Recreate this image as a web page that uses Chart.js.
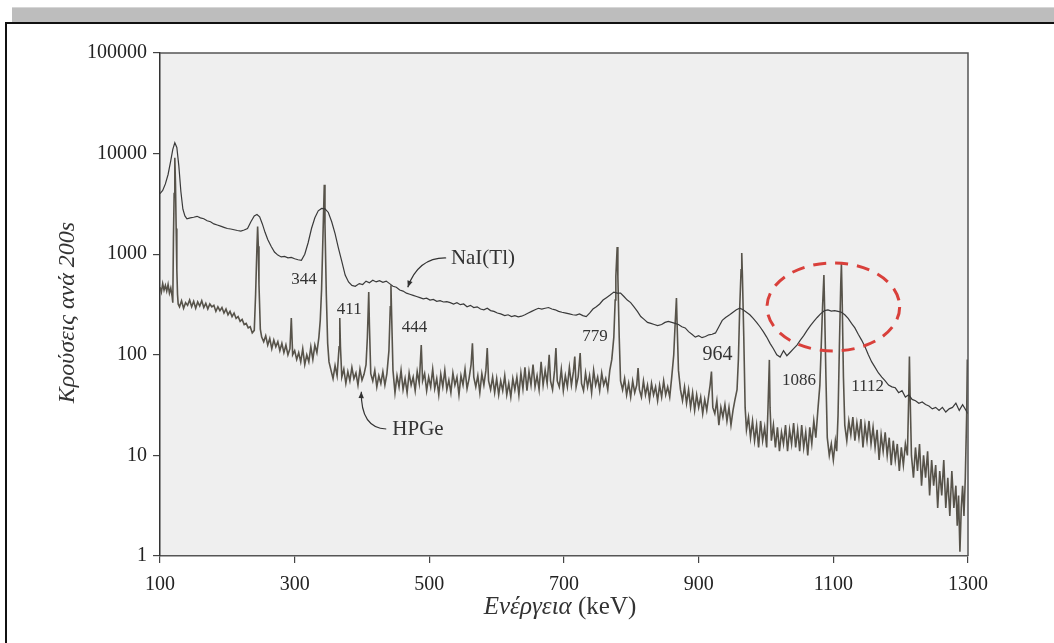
<!DOCTYPE html>
<html>
<head>
<meta charset="utf-8">
<script src="https://cdn.jsdelivr.net/npm/chart.js@4.4.1/dist/chart.umd.min.js"></script>
<style>
  html, body { margin: 0; padding: 0; background: #fff; width: 1054px; height: 643px; overflow: hidden; }
  #bar { position: absolute; left: 12px; top: 7px; width: 1042px; height: 14px; background: #bdbdbd; border-top: 1px solid #d6d6d6; }
  #frame { position: absolute; left: 5px; top: 22px; width: 1060px; height: 640px; border-left: 2px solid #111; border-top: 2px solid #111; }
  #spectrum { position: absolute; left: 0; top: 0; }
</style>
</head>
<body>
<div id="bar"></div>
<div id="frame"></div>
<canvas id="spectrum" width="1054" height="643"></canvas>
<script>
// ===============================
// Eu-152 spectrum, NaI(Tl) vs HPGe
// ===============================

// axis ticks
const energyTicks = [100, 300, 500, 700, 900, 1100, 1300];
const countTicks = [1, 10, 100, 1000, 10000, 100000];

// NaI(Tl) spectrum  [keV, counts]
const naiPoints = [
  [100, 4000], [104, 4300], [108, 5000], [112, 6200], [116, 8500], [119, 11000], [122, 12800], [125, 11500],
  [128, 7500], [131, 4200], [134, 2800], [137, 2400], [140, 2250], [145, 2300], [150, 2330], [155, 2380],
  [160, 2300], [165, 2250], [170, 2150], [175, 2100], [180, 2000], [185, 1950], [190, 1900], [195, 1850],
  [200, 1800], [205, 1780], [210, 1750], [215, 1720], [220, 1700], [225, 1740], [230, 1800], [235, 2100],
  [240, 2400], [244, 2480], [248, 2350], [252, 2000], [256, 1650], [260, 1400], [265, 1200], [270, 1050],
  [275, 980], [280, 940], [285, 950], [290, 920], [295, 930], [300, 900], [305, 880], [310, 870],
  [315, 1000], [320, 1300], [325, 1800], [330, 2300], [335, 2700], [340, 2850], [345, 2820], [350, 2600],
  [355, 2100], [360, 1600], [365, 1150], [370, 850], [375, 620], [380, 530], [385, 490], [390, 480],
  [396, 510], [401, 500], [406, 540], [411, 520], [416, 550], [421, 530], [426, 545], [431, 525],
  [436, 540], [441, 510], [446, 480], [451, 470], [456, 440], [461, 430], [466, 410], [471, 400],
  [476, 390], [481, 380], [486, 370], [491, 360], [496, 365], [501, 350], [506, 355], [511, 340],
  [516, 345], [521, 335], [526, 338], [531, 330], [536, 320], [541, 330], [546, 315], [551, 320],
  [556, 300], [561, 310], [566, 295], [571, 300], [576, 285], [581, 280], [586, 290], [591, 275],
  [596, 270], [601, 260], [606, 255], [612, 245], [617, 250], [622, 240], [627, 245], [632, 238],
  [637, 242], [642, 250], [647, 260], [652, 270], [657, 280], [662, 290], [667, 285], [672, 290],
  [677, 295], [682, 285], [687, 280], [692, 270], [697, 265], [703, 260], [708, 255], [713, 250],
  [718, 248], [723, 255], [728, 245], [733, 240], [738, 260], [743, 285], [748, 300], [753, 320],
  [758, 350], [763, 370], [768, 390], [774, 420], [779, 410], [784, 410], [789, 380], [794, 350],
  [799, 330], [804, 300], [809, 270], [814, 240], [819, 225], [824, 210], [829, 205], [834, 200],
  [839, 195], [845, 200], [850, 210], [855, 215], [860, 210], [865, 205], [870, 200], [875, 190],
  [880, 185], [885, 170], [890, 160], [895, 150], [900, 155], [905, 148], [910, 152], [915, 158],
  [920, 160], [925, 165], [930, 190], [935, 220], [940, 235], [946, 250], [951, 265], [956, 280],
  [961, 290], [966, 280], [971, 265], [976, 250], [981, 230], [986, 210], [991, 190], [996, 170],
  [1001, 150], [1006, 130], [1011, 115], [1016, 100], [1021, 95], [1026, 110], [1031, 98], [1036, 106],
  [1041, 115], [1046, 125], [1051, 140], [1056, 155], [1061, 175], [1066, 195], [1071, 215], [1076, 235],
  [1081, 255], [1087, 275], [1092, 280], [1097, 272], [1102, 275], [1107, 270], [1112, 265], [1117, 250],
  [1122, 230], [1127, 205], [1132, 185], [1137, 160], [1142, 140], [1147, 120], [1152, 100], [1157, 85],
  [1162, 75], [1167, 66], [1172, 60], [1177, 55], [1182, 50], [1187, 48], [1192, 47], [1197, 42],
  [1202, 44], [1207, 38], [1212, 40], [1217, 36], [1222, 35], [1227, 33], [1232, 34], [1237, 32],
  [1242, 31], [1247, 29], [1252, 30], [1257, 28], [1262, 30], [1267, 27], [1272, 29], [1277, 30],
  [1282, 33], [1287, 28], [1292, 32], [1300, 26]
];

// HPGe spectrum  [keV, counts]
const hpgePoints = [
  [100, 470], [102, 420], [104, 510], [106, 440], [108, 490], [110, 430], [112, 500], [114, 410],
  [116, 460], [118, 380], [119, 330], [120, 1500], [121, 4000], [122, 9100], [123, 5000], [124, 1800],
  [125, 700], [126, 400], [127, 320], [129, 300], [132, 345], [135, 290], [138, 330], [141, 310],
  [144, 350], [147, 300], [150, 340], [153, 290], [156, 335], [159, 305], [162, 345], [165, 295],
  [168, 325], [171, 285], [174, 320], [177, 300], [180, 310], [183, 270], [186, 300], [189, 275],
  [192, 295], [195, 260], [198, 285], [201, 250], [204, 270], [207, 240], [210, 260], [213, 230],
  [216, 240], [219, 215], [222, 225], [225, 200], [228, 205], [231, 185], [234, 190], [237, 165],
  [240, 175], [242, 400], [244, 1200], [245, 1880], [246, 1200], [247, 500], [249, 180], [251, 150],
  [254, 135], [257, 155], [260, 125], [263, 145], [266, 115], [269, 140], [272, 120], [275, 135],
  [278, 110], [281, 130], [284, 105], [287, 125], [290, 100], [293, 115], [295, 232], [297, 100],
  [300, 110], [303, 90], [306, 105], [309, 85], [312, 115], [315, 80], [318, 100], [321, 85],
  [324, 120], [327, 90], [330, 125], [333, 105], [336, 150], [338, 220], [340, 450], [342, 1500],
  [344, 4900], [345, 2000], [347, 400], [349, 130], [351, 85], [354, 70], [357, 58], [360, 78],
  [363, 62], [366, 120], [367, 232], [368, 120], [370, 60], [373, 72], [376, 52], [379, 68],
  [382, 55], [385, 75], [388, 58], [391, 66], [394, 50], [397, 72], [400, 56], [403, 64],
  [406, 80], [408, 150], [410, 420], [411, 200], [413, 65], [416, 55], [419, 70], [422, 48],
  [425, 62], [428, 52], [431, 68], [434, 50], [437, 65], [440, 110], [442, 300], [443, 490],
  [444, 250], [446, 70], [449, 42], [452, 62], [455, 48], [458, 70], [461, 45], [464, 58],
  [467, 42], [470, 66], [473, 50], [476, 60], [479, 44], [482, 68], [485, 52], [488, 125],
  [490, 55], [493, 65], [496, 44], [499, 60], [502, 48], [505, 72], [508, 46], [511, 58],
  [514, 40], [517, 64], [520, 48], [523, 70], [526, 45], [529, 56], [532, 42], [535, 66],
  [538, 50], [541, 60], [544, 40], [547, 62], [550, 50], [553, 72], [556, 46], [559, 58],
  [562, 80], [564, 130], [566, 60], [569, 48], [572, 62], [575, 42], [578, 65], [581, 50],
  [584, 70], [586, 117], [588, 55], [591, 45], [594, 60], [597, 42], [600, 58], [603, 40],
  [606, 55], [609, 44], [612, 62], [615, 40], [618, 52], [621, 38], [624, 58], [627, 45],
  [630, 60], [633, 40], [636, 66], [639, 46], [642, 75], [645, 44], [648, 68], [651, 50],
  [654, 80], [657, 48], [660, 62], [663, 45], [666, 85], [669, 50], [672, 70], [675, 52],
  [678, 100], [680, 55], [683, 45], [686, 70], [688, 117], [690, 55], [693, 48], [696, 72],
  [699, 44], [702, 62], [705, 48], [708, 75], [711, 50], [714, 68], [716, 96], [718, 48],
  [721, 60], [724, 104], [726, 52], [729, 44], [732, 66], [735, 48], [738, 62], [741, 42],
  [744, 70], [747, 50], [750, 60], [753, 44], [756, 66], [759, 50], [762, 58], [765, 45],
  [768, 70], [771, 90], [774, 150], [776, 350], [777, 600], [779, 1180], [780, 600], [782, 150],
  [784, 55], [787, 45], [790, 58], [793, 40], [796, 52], [799, 38], [802, 55], [805, 42],
  [808, 50], [810, 74], [812, 45], [815, 38], [818, 55], [821, 40], [824, 50], [827, 36],
  [830, 52], [833, 40], [836, 48], [839, 35], [842, 50], [845, 38], [848, 55], [851, 40],
  [854, 48], [857, 38], [860, 60], [863, 100], [865, 200], [867, 366], [868, 200], [870, 70],
  [873, 45], [876, 35], [879, 48], [882, 33], [885, 45], [888, 30], [891, 42], [894, 28],
  [897, 40], [900, 30], [903, 38], [906, 26], [909, 36], [912, 28], [915, 40], [917, 50],
  [919, 68], [921, 30], [924, 26], [927, 35], [930, 20], [933, 30], [936, 24], [939, 32],
  [942, 22], [945, 30], [948, 20], [951, 28], [954, 36], [957, 45], [959, 90], [961, 300],
  [963, 700], [964, 1030], [965, 600], [967, 150], [969, 30], [971, 18], [974, 24], [977, 15],
  [980, 22], [983, 14], [986, 20], [989, 12], [992, 22], [995, 14], [998, 19], [1001, 12],
  [1003, 30], [1005, 89], [1006, 30], [1008, 14], [1011, 20], [1014, 12], [1017, 19], [1020, 11],
  [1023, 17], [1026, 13], [1029, 20], [1032, 11], [1035, 18], [1038, 13], [1041, 21], [1044, 12],
  [1047, 18], [1050, 11], [1053, 20], [1056, 12], [1059, 17], [1062, 10], [1065, 19], [1068, 13],
  [1071, 22], [1074, 15], [1077, 28], [1080, 50], [1082, 120], [1084, 300], [1086, 620], [1087, 300],
  [1089, 60], [1091, 15], [1094, 10], [1097, 13], [1100, 9], [1103, 14], [1105, 11], [1107, 25],
  [1109, 120], [1111, 500], [1112, 800], [1113, 400], [1115, 60], [1117, 20], [1120, 14], [1123, 22],
  [1126, 16], [1129, 24], [1132, 14], [1135, 21], [1138, 15], [1141, 23], [1144, 12], [1147, 20],
  [1150, 14], [1153, 22], [1156, 13], [1159, 19], [1162, 12], [1165, 18], [1168, 9], [1171, 16],
  [1174, 11], [1177, 17], [1180, 10], [1183, 15], [1186, 8], [1189, 14], [1192, 9], [1195, 13],
  [1198, 7], [1201, 12], [1204, 8], [1207, 13], [1210, 10], [1212, 40], [1213, 96], [1214, 40],
  [1216, 10], [1219, 6], [1222, 12], [1225, 7], [1228, 13], [1231, 5], [1234, 10], [1237, 6],
  [1240, 11], [1243, 4], [1246, 9], [1249, 5], [1252, 8], [1255, 3], [1258, 7], [1261, 4],
  [1264, 9], [1267, 3], [1270, 6], [1273, 2.5], [1276, 7], [1279, 3], [1282, 5], [1284, 2],
  [1286, 4], [1288, 1.1], [1290, 3], [1292, 5], [1294, 2.5], [1296, 6], [1298, 25], [1299, 90]
];

// peak labels: text, keV, counts (position of the label centre)
const peakLabels = ["344", "411", "444", "779", "964", "1086", "1112"];
const peakLabelE = [314, 381, 478, 746, 928, 1049, 1151];
const peakLabelCounts = [555, 279, 186, 151, 99, 56, 48];
const peakLabelSize = [17, 17, 17, 17, 20, 17, 17];

const serif = '"Liberation Serif", "DejaVu Serif", serif';

// plot background + frame, annotations, axis titles
const decorPlugin = {
  id: "decor",
  beforeDraw(chart) {
    const { ctx, chartArea: a } = chart;
    ctx.save();
    ctx.fillStyle = "#efefef";
    ctx.fillRect(a.left, a.top, a.right - a.left, a.bottom - a.top);
    ctx.restore();
  },
  afterDatasetsDraw(chart) {
    const { ctx, chartArea: a } = chart;
    const xs = chart.scales.x, ys = chart.scales.y;
    const px = e => xs.getPixelForValue(e);
    const py = c => ys.getPixelForValue(c);

    ctx.save();
    // frame top / right
    ctx.strokeStyle = "#555";
    ctx.lineWidth = 1.5;
    ctx.beginPath();
    ctx.moveTo(a.left, a.top); ctx.lineTo(a.right, a.top); ctx.lineTo(a.right, a.bottom);
    ctx.stroke();

    // peak labels
    ctx.fillStyle = "#333";
    ctx.textAlign = "center";
    ctx.textBaseline = "middle";
    peakLabels.forEach((t, i) => {
      ctx.font = peakLabelSize[i] + "px " + serif;
      ctx.fillText(t, px(peakLabelE[i]), py(peakLabelCounts[i]));
    });

    // detector labels
    ctx.font = "21px " + serif;
    ctx.textAlign = "left";
    ctx.fillText("NaI(Tl)", px(532), py(917));
    ctx.fillText("HPGe", px(445), py(17.9));

    // arrows
    ctx.strokeStyle = "#333";
    ctx.lineWidth = 1.2;
    function arrow(e0, c0, e1, c1, e2, c2) {
      const x0 = px(e0), y0 = py(c0), x1 = px(e1), y1 = py(c1), x2 = px(e2), y2 = py(c2);
      ctx.beginPath();
      ctx.moveTo(x0, y0);
      ctx.quadraticCurveTo(x1, y1, x2, y2);
      ctx.stroke();
      const ang = Math.atan2(y2 - y1, x2 - x1);
      ctx.beginPath();
      ctx.moveTo(x2, y2);
      ctx.lineTo(x2 - 7 * Math.cos(ang - 0.4), y2 - 7 * Math.sin(ang - 0.4));
      ctx.lineTo(x2 - 7 * Math.cos(ang + 0.4), y2 - 7 * Math.sin(ang + 0.4));
      ctx.closePath();
      ctx.fill();
    }
    arrow(525, 917, 484, 930, 468, 470);
    arrow(436, 18.3, 398, 18.8, 399, 43);

    // dashed red ellipse round the 1086 / 1112 region
    const cx = px(1100), cy = py(299);
    const rx = px(1198.5) - cx, ry = (py(109) - py(817)) / 2;
    ctx.strokeStyle = "#d9403b";
    ctx.lineWidth = 3;
    ctx.setLineDash([13, 9]);
    ctx.beginPath();
    ctx.ellipse(cx, cy, rx, ry, 0, 0, Math.PI * 2);
    ctx.stroke();
    ctx.setLineDash([]);

    // axis titles
    ctx.fillStyle = "#333";
    ctx.textBaseline = "middle";
    ctx.save();
    ctx.translate(68, (a.top + a.bottom) / 2 + 8);
    ctx.rotate(-Math.PI / 2);
    ctx.textAlign = "center";
    ctx.font = "italic 24px " + serif;
    ctx.fillText("Κρούσεις ανά 200s", 0, 0);
    ctx.restore();

    const part1 = "Ενέργεια", part2 = " (keV)";
    ctx.font = "italic 25px " + serif;
    const w1 = ctx.measureText(part1).width;
    ctx.font = "25px " + serif;
    const w2 = ctx.measureText(part2).width;
    const startX = (a.left + a.right) / 2 - (w1 + w2) / 2 - 4;
    ctx.textAlign = "left";
    ctx.font = "italic 25px " + serif;
    ctx.fillText(part1, startX, 607);
    ctx.font = "25px " + serif;
    ctx.fillText(part2, startX + w1, 607);
    ctx.restore();
  }
};

const toXY = pts => pts.map(p => ({ x: p[0], y: p[1] }));

new Chart(document.getElementById("spectrum"), {
  type: "line",
  data: {
    datasets: [
      {
        label: "NaI(Tl)",
        data: toXY(naiPoints),
        borderColor: "#3a3a3a",
        borderWidth: 1.2,
        pointRadius: 0,
        tension: 0
      },
      {
        label: "HPGe",
        data: toXY(hpgePoints),
        borderColor: "#57534a",
        borderWidth: 1.6,
        pointRadius: 0,
        tension: 0
      }
    ]
  },
  options: {
    responsive: false,
    animation: false,
    devicePixelRatio: 1,
    layout: { padding: { left: 0, top: 53, right: 86, bottom: 0 } },
    plugins: { legend: { display: false }, tooltip: { enabled: false } },
    scales: {
      x: {
        type: "linear",
        min: 100,
        max: 1300,
        afterBuildTicks: s => { s.ticks = energyTicks.map(v => ({ value: v })); },
        afterFit: s => { s.height = 87; },
        ticks: { color: "#222", font: { family: serif, size: 20 }, padding: 10, maxRotation: 0, callback: v => String(v) },
        grid: { drawOnChartArea: false, drawTicks: true, tickLength: 7, color: "#444", lineWidth: 1.2 },
        border: { display: true, color: "#555", width: 1.5 }
      },
      y: {
        type: "logarithmic",
        min: 1,
        max: 100000,
        afterBuildTicks: s => { s.ticks = countTicks.map(v => ({ value: v })); },
        afterFit: s => { s.width = 160; },
        ticks: { color: "#222", font: { family: serif, size: 20 }, padding: 6, callback: v => String(v) },
        grid: { drawOnChartArea: false, drawTicks: true, tickLength: 7, color: "#444", lineWidth: 1.2 },
        border: { display: true, color: "#333", width: 1.5 }
      }
    }
  },
  plugins: [decorPlugin]
});
</script>
</body>
</html>
